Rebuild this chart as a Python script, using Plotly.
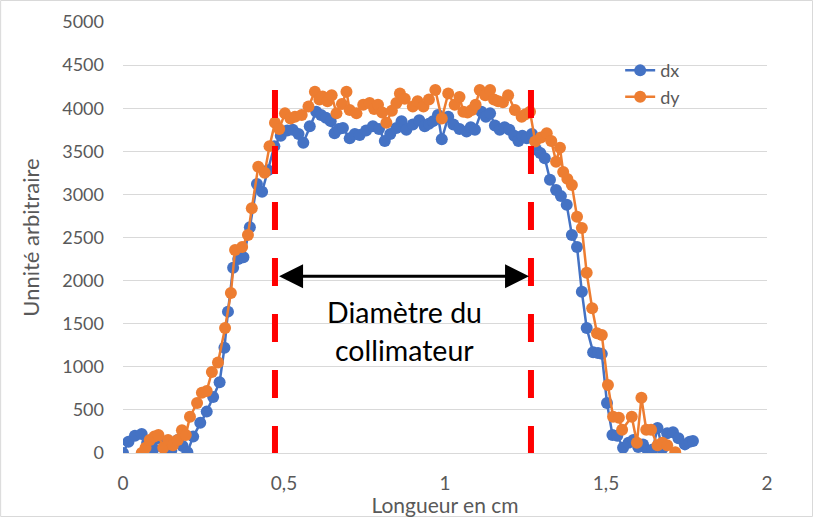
import plotly.graph_objects as go

# dx profile (blue)
dx_x = [0, 0.017, 0.037, 0.058, 0.075, 0.095, 0.11, 0.13, 0.15, 0.17, 0.185, 0.2, 0.218, 0.24, 0.26,
        0.28, 0.30, 0.315, 0.326, 0.342, 0.358, 0.374, 0.394, 0.416, 0.432, 0.45, 0.47, 0.49, 0.51,
        0.527, 0.545, 0.56, 0.58, 0.6, 0.615, 0.63, 0.645, 0.657, 0.67, 0.683, 0.704, 0.72, 0.735,
        0.755, 0.776, 0.795, 0.813, 0.83, 0.849, 0.865, 0.88, 0.9, 0.92, 0.937, 0.95, 0.963, 0.978,
        0.99, 1.01, 1.026, 1.045, 1.067, 1.08, 1.093, 1.113, 1.127, 1.14, 1.155, 1.17, 1.185, 1.2,
        1.215, 1.228, 1.24, 1.254, 1.27, 1.283, 1.296, 1.31, 1.326, 1.345, 1.36, 1.378, 1.394, 1.41,
        1.425, 1.44, 1.46, 1.475, 1.487, 1.503, 1.52, 1.535, 1.553, 1.57, 1.585, 1.6, 1.615, 1.63,
        1.645, 1.66, 1.675, 1.69, 1.708, 1.725, 1.745, 1.76, 1.77]
dx_y = [0, 130, 200, 220, 120, 50, 170, 130, 30, 150, 80, 10, 190, 350, 480,
        650, 820, 1220, 1640, 2150, 2250, 2270, 2620, 3120, 3030, 3280, 3560, 3680, 3740,
        3750, 3700, 3600, 3790, 3960, 3920, 3890, 3850, 3710, 3760, 3770, 3650, 3700, 3690,
        3740, 3790, 3760, 3620, 3700, 3770, 3850, 3750, 3810, 3860, 3790, 3820, 3850, 3920,
        3640, 3900, 3810, 3760, 3730, 3780, 3750, 3960, 3900, 3940, 3800, 3750, 3780, 3750,
        3680, 3620, 3680, 3650, 3700, 3520, 3480, 3420, 3170, 3050, 2980, 2880, 2530, 2390,
        1870, 1450, 1170, 1160, 1150, 580, 210, 200, 60, 120, 150, 70, 100, 30,
        40, 290, 50, 230, 240, 170, 100, 130, 140]

# dy profile (orange)
dy_x = [0.058, 0.07, 0.083, 0.097, 0.11, 0.125, 0.14, 0.155, 0.17, 0.183, 0.195, 0.208, 0.23,
        0.245, 0.26, 0.276, 0.295, 0.317, 0.335, 0.348, 0.37, 0.388, 0.40, 0.42, 0.44, 0.455,
        0.472, 0.485, 0.503, 0.52, 0.534, 0.555, 0.576, 0.596, 0.61, 0.62, 0.635, 0.648, 0.663,
        0.68, 0.694, 0.704, 0.725, 0.746, 0.766, 0.78, 0.792, 0.805, 0.818, 0.835, 0.849, 0.86,
        0.875, 0.9, 0.915, 0.933, 0.95, 0.97, 0.99, 1.01, 1.03, 1.045, 1.057, 1.07, 1.083, 1.095,
        1.108, 1.125, 1.14, 1.152, 1.165, 1.18, 1.196, 1.217, 1.238, 1.25, 1.264, 1.28, 1.298,
        1.316, 1.33, 1.345, 1.357, 1.367, 1.38, 1.394, 1.41, 1.425, 1.44, 1.457, 1.472, 1.487,
        1.506, 1.522, 1.54, 1.55, 1.58, 1.596, 1.61, 1.625, 1.64, 1.66, 1.675, 1.69, 1.715]
dy_y = [0, 60, 150, 190, 210, 60, 150, 90, 150, 265, 210, 420, 580,
        700, 720, 940, 1050, 1450, 1856, 2355, 2390, 2530, 2840, 3320, 3250, 3560,
        3830, 3760, 3940, 3880, 3900, 3920, 4020, 4190, 4100, 4135, 4080, 4150, 3940,
        4050, 4190, 3980, 3940, 4040, 4060, 3990, 4040, 3950, 3830, 3970, 4060, 4170,
        4110, 4020, 4080, 4020, 4100, 4210, 3880, 4170, 4040, 4130, 3960, 3950, 3980, 4040,
        4210, 4150, 4210, 4100, 4080, 4070, 4150, 3980, 3900, 3930, 3960, 3615, 3660,
        3710, 3620, 3380, 3540, 3260, 3180, 3110, 2740, 2610, 2090, 1680, 1390, 1370,
        790, 420, 410, 270, 420, 120, 640, 270, 270, 90, 120, 90, 10]

x_ticks = [0, 0.5, 1, 1.5, 2]
x_labels = ['0', '0,5', '1', '1,5', '2']

# collimator edges and arrow level
edges = [0.472, 1.267]
edge_top = 4210
arrow_y = 2050

font = 'Lato'
grey = '#595959'

fig = go.Figure()
fig.add_trace(go.Scatter(x=dx_x, y=dx_y, mode='lines+markers', name='dx',
                         line=dict(color='#4472C4', width=2.5),
                         marker=dict(color='#4472C4', size=12)))
fig.add_trace(go.Scatter(x=dy_x, y=dy_y, mode='lines+markers', name='dy',
                         line=dict(color='#ED7D31', width=2.5),
                         marker=dict(color='#ED7D31', size=12)))

# red dashed lines at the collimator edges
for e in edges:
    fig.add_shape(type='line', x0=e, x1=e, y0=edge_top, y1=0, xref='x', yref='y',
                  line=dict(color='#FF0000', width=6, dash='28px,28px'))

# double arrow between edges
fig.add_annotation(x=edges[1] - 0.006, y=arrow_y, ax=edges[0] + 0.008, ay=arrow_y,
                   xref='x', yref='y', axref='x', ayref='y', text='', showarrow=True,
                   arrowhead=2, startarrowhead=2, arrowside='end+start',
                   arrowsize=1.6, startarrowsize=1.6, arrowwidth=3, arrowcolor='black',
                   standoff=0, startstandoff=0)

fig.add_annotation(x=0.873, y=1640, text='Diamètre du', showarrow=False,
                   font=dict(family=font, size=28.5, color='black'))
fig.add_annotation(x=0.873, y=1195, text='collimateur', showarrow=False,
                   font=dict(family=font, size=28.5, color='black'))

# outer chart border
fig.add_shape(type='rect', xref='paper', yref='paper', x0=-0.19, x1=1.0707, y0=-0.1473, y1=1.0499,
              line=dict(color='#D9D9D9', width=1))

fig.update_layout(width=813, height=517, margin=dict(l=123, r=46, t=22, b=64),
                  paper_bgcolor='white', plot_bgcolor='white',
                  font=dict(family=font, size=18, color=grey),
                  legend=dict(x=0.772, y=0.93, xanchor='left', yanchor='top',
                              font=dict(size=18, color=grey), bgcolor='rgba(0,0,0,0)'))
fig.update_xaxes(range=[0, 2], tickvals=x_ticks, ticktext=x_labels, showgrid=False,
                 zeroline=False, showline=False, ticklabelstandoff=17, automargin=False,
                 tickfont=dict(size=19),
                 title=dict(text='Longueur en cm', standoff=4, font=dict(size=21, color=grey)))
fig.update_yaxes(range=[0, 5000], dtick=500, showgrid=True, gridcolor='#D9D9D9', gridwidth=1,
                 zeroline=True, zerolinecolor='#D9D9D9', zerolinewidth=1, showline=False,
                 ticklabelstandoff=18, tickfont=dict(size=18), automargin=False,
                 title=dict(text='Unnité arbitraire', standoff=16, font=dict(size=22, color=grey)))

fig.write_html("out.html", config={'displayModeBar': False},
               post_script="document.body.style.margin='0';")
